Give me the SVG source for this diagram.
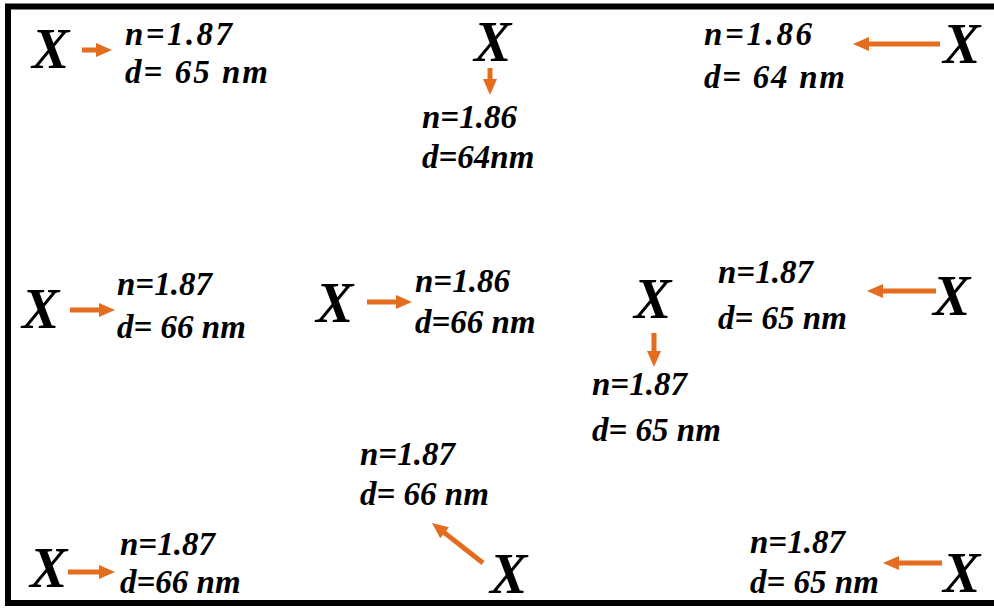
<svg xmlns="http://www.w3.org/2000/svg" width="994" height="608" viewBox="0 0 994 608">
<defs>
<marker id="h" markerUnits="userSpaceOnUse" markerWidth="16" markerHeight="14" refX="2" refY="7" orient="auto" overflow="visible">
<path d="M0,0 L16,7 L0,14 z" fill="#E36C1F"/>
</marker>
</defs>
<rect width="994" height="608" fill="#fff"/>
<path d="M994,6.5 H8 V603 H994" fill="none" stroke="#000" stroke-width="6"/>
<g id="connectors" stroke="#E36C1F" stroke-width="5" fill="none" marker-end="url(#h)">
<line x1="82" y1="50" x2="98" y2="50"/>
<line x1="490" y1="68" x2="490" y2="81"/>
<line x1="940" y1="44" x2="867" y2="44"/>
<line x1="70" y1="310" x2="101" y2="310"/>
<line x1="367" y1="302" x2="398" y2="302"/>
<line x1="936" y1="291" x2="881" y2="291"/>
<line x1="654" y1="333" x2="654" y2="353"/>
<line x1="483" y1="563" x2="443" y2="531.6"/>
<line x1="68" y1="572" x2="101" y2="572"/>
<line x1="942" y1="563" x2="897" y2="563"/>
</g>
<g id="n1"><text font-family="Liberation Serif" font-weight="bold" font-style="italic" font-size="56" x="32" y="68">X</text><text font-family="Liberation Serif" font-weight="bold" font-style="italic" font-size="33" x="125" y="45" textLength="107" lengthAdjust="spacing">n=1.87</text><text font-family="Liberation Serif" font-weight="bold" font-style="italic" font-size="33" x="125" y="83" textLength="143" lengthAdjust="spacing">d= 65 nm</text></g>
<g id="n2"><text font-family="Liberation Serif" font-weight="bold" font-style="italic" font-size="56" x="474" y="61">X</text><text font-family="Liberation Serif" font-weight="bold" font-style="italic" font-size="33" x="422" y="128">n=1.86</text><text font-family="Liberation Serif" font-weight="bold" font-style="italic" font-size="33" x="422" y="168">d=64nm</text></g>
<text x="943" y="63" font-family="Liberation Serif" font-style="italic" font-weight="bold" font-size="56">X</text>
<text x="704" y="45" font-family="Liberation Serif" font-style="italic" font-weight="bold" font-size="33" textLength="108" lengthAdjust="spacing">n=1.86</text>
<text x="704" y="88" font-family="Liberation Serif" font-style="italic" font-weight="bold" font-size="33" textLength="141" lengthAdjust="spacing">d= 64 nm</text>
<text x="22" y="328" font-family="Liberation Serif" font-style="italic" font-weight="bold" font-size="56">X</text>
<text x="117" y="295" font-family="Liberation Serif" font-style="italic" font-weight="bold" font-size="33">n=1.87</text>
<text x="117" y="338" font-family="Liberation Serif" font-style="italic" font-weight="bold" font-size="33">d= 66 nm</text>
<g id="n5"><text font-family="Liberation Serif" font-weight="bold" font-style="italic" font-size="56" x="316" y="322">X</text><text font-family="Liberation Serif" font-weight="bold" font-style="italic" font-size="33" x="415" y="292">n=1.86</text><text font-family="Liberation Serif" font-weight="bold" font-style="italic" font-size="33" x="415" y="333">d=66 nm</text></g>
<g id="n6"><text font-family="Liberation Serif" font-weight="bold" font-style="italic" font-size="56" x="933" y="315">X</text><text font-family="Liberation Serif" font-weight="bold" font-style="italic" font-size="33" x="718" y="283">n=1.87</text><text font-family="Liberation Serif" font-weight="bold" font-style="italic" font-size="33" x="718" y="329">d= 65 nm</text></g>
<g id="n7"><text font-family="Liberation Serif" font-weight="bold" font-style="italic" font-size="56" x="634" y="318">X</text><text font-family="Liberation Serif" font-weight="bold" font-style="italic" font-size="33" x="592" y="395">n=1.87</text><text font-family="Liberation Serif" font-weight="bold" font-style="italic" font-size="33" x="592" y="441">d= 65 nm</text></g>
<g id="n8"><text font-family="Liberation Serif" font-weight="bold" font-style="italic" font-size="56" x="490" y="593">X</text><text font-family="Liberation Serif" font-weight="bold" font-style="italic" font-size="33" x="360" y="465">n=1.87</text><text font-family="Liberation Serif" font-weight="bold" font-style="italic" font-size="33" x="360" y="505">d= 66 nm</text></g>
<g id="n9"><text font-family="Liberation Serif" font-weight="bold" font-style="italic" font-size="56" x="30" y="587">X</text><text font-family="Liberation Serif" font-weight="bold" font-style="italic" font-size="33" x="120" y="555">n=1.87</text><text font-family="Liberation Serif" font-weight="bold" font-style="italic" font-size="33" x="120" y="593">d=66 nm</text></g>
<g id="n10"><text font-family="Liberation Serif" font-weight="bold" font-style="italic" font-size="56" x="943" y="592">X</text><text font-family="Liberation Serif" font-weight="bold" font-style="italic" font-size="33" x="750" y="553">n=1.87</text><text font-family="Liberation Serif" font-weight="bold" font-style="italic" font-size="33" x="750" y="593">d= 65 nm</text></g>
</svg>
